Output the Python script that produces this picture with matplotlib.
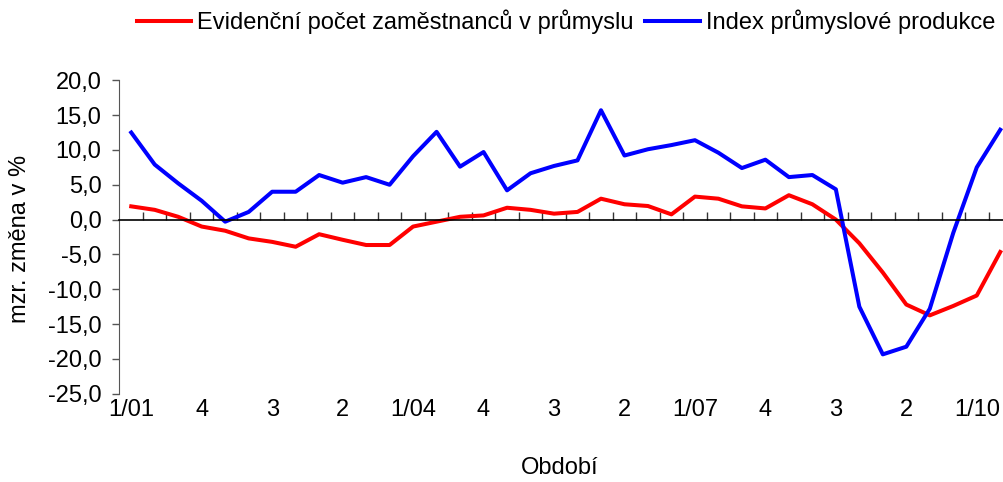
import numpy as np
import matplotlib
matplotlib.use('Agg')
import matplotlib.pyplot as plt

plt.rcParams['font.family'] = ['Liberation Sans', 'DejaVu Sans']

# čtvrtletí 1/01 .. 2/10
quarters = [f'{q}/{y:02d}' for y in range(1, 11) for q in range(1, 5)][:38]

zamestnanci = [1.9, 1.4, 0.4, -1.0, -1.6, -2.7, -3.2, -3.9, -2.1, -2.9, -3.65, -3.65,
               -1.0, -0.3, 0.4, 0.6, 1.7, 1.4, 0.85, 1.1, 3.0, 2.2, 1.95, 0.75,
               3.3, 3.0, 1.9, 1.6, 3.5, 2.2, 0.0, -3.4, -7.6, -12.2, -13.75, -12.4,
               -10.9, -4.65]
produkce = [12.5, 7.9, 5.2, 2.7, -0.3, 1.1, 4.0, 4.0, 6.4, 5.3, 6.1, 5.0,
            9.1, 12.6, 7.6, 9.7, 4.2, 6.65, 7.7, 8.5, 15.7, 9.2, 10.1, 10.7,
            11.4, 9.6, 7.4, 8.6, 6.1, 6.4, 4.35, -12.5, -19.35, -18.25, -12.8, -1.9,
            7.5, 12.9]

# popisky jen každé třetí čtvrtletí
tick_idx = list(range(0, 37, 3))
tick_labels = [quarters[i] if quarters[i].startswith('1/') else quarters[i].split('/')[0]
               for i in tick_idx]

fs = 17
fig = plt.figure(figsize=(10.04, 4.82), dpi=100)
ax = fig.add_axes([119.5 / 1004, 1 - 393.7 / 482, 892.5 / 1004, 313.4 / 482])

x = np.arange(len(quarters))
ax.plot(x, zamestnanci, color='#ff0000', lw=2.9, label='Evidenční počet zaměstnanců v průmyslu')
ax.plot(x, produkce, color='#0000ff', lw=2.9, label='Index průmyslové produkce')

ax.set_xlim(-0.5, len(quarters) - 0.5)
ax.set_ylim(-25, 20)
ax.set_yticks(np.arange(-25, 21, 5))
ax.set_yticklabels([f'{v:.1f}'.replace('.', ',') for v in np.arange(-25, 21, 5)], fontsize=fs)
ax.tick_params(axis='y', direction='out', length=5, width=1, color='#555555', pad=8)

for s in ['top', 'right']:
    ax.spines[s].set_visible(False)
ax.spines['left'].set_color('#555555')
ax.spines['bottom'].set_position(('data', 0))
ax.spines['bottom'].set_color('black')
ax.spines['bottom'].set_linewidth(1.2)

# dělicí značky kategorií na nulové ose
ax.set_xticks(np.arange(0.5, len(quarters) - 0.5, 1), minor=True)
ax.set_xticks([])
ax.tick_params(axis='x', which='minor', direction='in', length=5.5, width=1, color='#333333')

sec = ax.secondary_xaxis('bottom')
sec.set_xticks(tick_idx)
sec.set_xticklabels(tick_labels, fontsize=fs)
sec.tick_params(length=0, pad=4)
sec.spines['bottom'].set_visible(False)

fig.text(20 / 1004, 1 - 239 / 482, 'mzr. změna v %', rotation=90, ha='center', va='center', fontsize=fs)
fig.text(560 / 1004, 1 - 468 / 482, 'Období', ha='center', va='center', fontsize=fs)

fig.legend(loc='center right', bbox_to_anchor=(995 / 1004, 1 - 22 / 482), ncol=2, frameon=False,
           fontsize=fs, handlelength=2.3, handletextpad=0.25, columnspacing=0.5,
           borderaxespad=0, borderpad=0)

fig.savefig('out.png', dpi=100)
